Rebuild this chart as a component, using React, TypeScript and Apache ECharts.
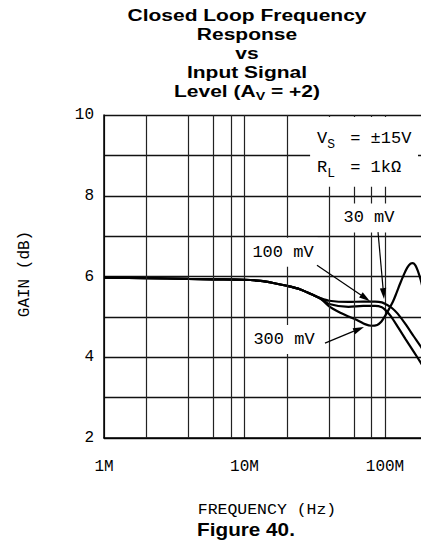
import React, { useEffect, useRef } from 'react';
import * as echarts from 'echarts';

// ---- Data (frequency in MHz, gain in dB) ----
const xTickLabels = ['1M', '10M', '100M'];
const minorGridFreqs = [2, 4, 6, 8, 20, 40, 60, 80, 200, 400, 600, 800];

const seriesNames = ['30 mV', '100 mV', '300 mV'];

const freq30 = [1, 2, 4, 6, 10, 13, 16, 20, 25, 30, 35, 40, 55, 70, 85, 95, 103, 112, 123, 140, 160, 180, 200];
const gain30 = [5.97, 5.96, 5.94, 5.93, 5.92, 5.89, 5.84, 5.77, 5.68, 5.56, 5.46, 5.4, 5.37, 5.38, 5.38, 5.36, 5.3, 5.22, 5.08, 4.82, 4.52, 4.26, 4.0];

const freq100 = [1, 2, 4, 6, 10, 13, 16, 20, 25, 30, 35, 40, 55, 70, 85, 95, 100, 110, 125, 140, 160, 180, 200];
const gain100 = [5.97, 5.96, 5.94, 5.93, 5.92, 5.89, 5.84, 5.77, 5.68, 5.56, 5.45, 5.32, 5.25, 5.27, 5.27, 5.24, 5.18, 5.02, 4.72, 4.45, 4.14, 3.86, 3.6];

const freq300 = [1, 2, 4, 6, 10, 13, 16, 20, 25, 30, 35, 40, 47, 55, 65, 72, 80, 88, 94, 100, 107, 114, 121, 128, 136, 144, 152, 158, 165, 172, 180, 190];
const gain300 = [5.97, 5.96, 5.94, 5.93, 5.92, 5.89, 5.84, 5.77, 5.68, 5.56, 5.44, 5.26, 5.12, 5.01, 4.9, 4.82, 4.78, 4.8, 4.88, 5.02, 5.2, 5.38, 5.6, 5.82, 6.04, 6.22, 6.32, 6.33, 6.27, 6.12, 5.9, 5.55];

const titleText = 'Closed Loop Frequency\nResponse\nvs\nInput Signal\nLevel (A{sub|V} = +2)';

// annotation anchors in data coordinates [MHz, dB]
const annotationLabels = [
  { text: '30 mV', at: [76.9, 7.45] },
  { text: '100 mV', at: [18.8, 6.6] },
  { text: '300 mV', at: [19.1, 4.44] },
];
const annotationArrows = [
  { from: [89.2, 7.1], to: [98.4, 5.44] },
  { from: [32.8, 6.28], to: [78.2, 5.39] },
  { from: [37.4, 4.35], to: [70.9, 4.75] },
];
const conditionBox = { from: [29.3, 9.95], to: [171.8, 8.22] };
const conditionLines = [
  { text: 'V{s|S} = \u00b115V', at: [32.8, 9.43] },
  { text: 'R{s|L} = 1k\u03a9', at: [32.8, 8.7] },
];

const MONO = 'Liberation Mono';
const SANS = 'Liberation Sans';

const toPairs = (f: number[], g: number[]) => f.map((v, i) => [v, g[i]]);

export default function App() {
  const ref = useRef<HTMLDivElement>(null);

  useEffect(() => {
    const el = ref.current!;
    const chart = echarts.init(el, null, { renderer: 'svg' });
    const curveData = [toPairs(freq30, gain30), toPairs(freq100, gain100), toPairs(freq300, gain300)];

    const option: any = {
      animation: false,
      backgroundColor: '#fff',
      grid: { left: 104, top: 115, width: 421.5, height: 323, containLabel: false },
      xAxis: {
        type: 'log',
        logBase: 10,
        min: 1,
        max: 1000,
        axisLine: { show: true, lineStyle: { color: '#000', width: 1.5 } },
        axisTick: { show: false },
        splitLine: { show: true, lineStyle: { color: '#222', width: 1.2 } },
        axisLabel: {
          margin: 21,
          fontFamily: MONO,
          fontSize: 16,
          color: '#000',
          formatter: (v: number) => xTickLabels[Math.round(Math.log10(v))] ?? '',
        },
      },
      yAxis: {
        type: 'value',
        min: 2,
        max: 10,
        interval: 1,
        axisLine: { show: true, lineStyle: { color: '#000', width: 1.5 } },
        axisTick: { show: false },
        splitLine: { show: true, lineStyle: { color: '#111', width: 1.4 } },
        axisLabel: {
          margin: 10,
          fontFamily: MONO,
          fontSize: 16,
          color: '#000',
          formatter: (v: number) => (Math.round(v) % 2 === 0 ? String(v) : ''),
        },
      },
      series: [
        {
          type: 'line',
          name: 'grid',
          data: [],
          silent: true,
          z: 1,
          markLine: {
            silent: true,
            symbol: ['none', 'none'],
            label: { show: false },
            lineStyle: { color: '#222', width: 1.2, type: 'solid' },
            data: minorGridFreqs.map((f) => ({ xAxis: f })),
          },
        },
        ...curveData.map((d, i) => ({
          type: 'line',
          name: seriesNames[i],
          data: d,
          smooth: 0.3,
          showSymbol: false,
          symbol: 'none',
          lineStyle: { color: '#000', width: 2.2 },
          z: 3,
        })),
      ],
    };
    chart.setOption(option);

    const toPx = (p: number[]) => chart.convertToPixel({ gridIndex: 0 } as any, p) as unknown as number[];
    const g: any[] = [];

    // title (one multi-line text, widened to match the reference's wide bold face)
    g.push({
      type: 'text',
      x: 247,
      y: 5.3,
      scaleX: 1.235,
      z: 100,
      style: {
        text: titleText,
        fontFamily: SANS,
        fontWeight: 'bold',
        fontSize: 17,
        lineHeight: 19,
        fill: '#000',
        align: 'center',
        verticalAlign: 'top',
        rich: {
          sub: { fontFamily: SANS, fontWeight: 'bold', fontSize: 11.5, lineHeight: 5, padding: [11, 0, 0, 0] },
        },
      },
    });

    // axis titles and caption
    g.push({
      type: 'text', x: 25, y: 274, rotation: Math.PI / 2, z: 100,
      style: { text: 'GAIN (dB)', fontFamily: MONO, fontSize: 16, fill: '#000', align: 'center', verticalAlign: 'middle' },
    });
    g.push({
      type: 'text', x: 267, y: 510, scaleX: 1.1, z: 100,
      style: { text: 'FREQUENCY (Hz)', fontFamily: MONO, fontSize: 15, fill: '#000', align: 'center', verticalAlign: 'middle' },
    });
    g.push({
      type: 'text', x: 246, y: 529.2, scaleX: 1.09, z: 100,
      style: { text: 'Figure 40.', fontFamily: SANS, fontWeight: 'bold', fontSize: 19, fill: '#000', align: 'center', verticalAlign: 'middle' },
    });

    // conditions box
    const b1 = toPx(conditionBox.from);
    const b2 = toPx(conditionBox.to);
    g.push({
      type: 'rect', z: 100,
      shape: { x: b1[0], y: b1[1], width: b2[0] - b1[0], height: b2[1] - b1[1] },
      style: { fill: '#fff' },
    });
    conditionLines.forEach((c) => {
      const [x, y] = toPx(c.at);
      g.push({
        type: 'text', x, y, z: 105,
        style: {
          text: c.text, fontFamily: MONO, fontSize: 17, fill: '#000', align: 'left', verticalAlign: 'middle',
          rich: { s: { fontFamily: MONO, fontSize: 13, lineHeight: 8, padding: [12, 5, 0, 0] } },
        },
      });
    });

    // curve labels
    annotationLabels.forEach((a) => {
      const [x, y] = toPx(a.at);
      g.push({
        type: 'text', x, y, z: 105,
        style: {
          text: a.text, fontFamily: MONO, fontSize: 17, fill: '#000', align: 'center', verticalAlign: 'middle',
          backgroundColor: '#fff', padding: [6, 4],
        },
      });
    });

    // arrows
    annotationArrows.forEach((a) => {
      const [x1, y1] = toPx(a.from);
      const [x2, y2] = toPx(a.to);
      const dx = x2 - x1;
      const dy = y2 - y1;
      const len = Math.hypot(dx, dy);
      const ux = dx / len;
      const uy = dy / len;
      const L = 11;
      const W = 3.2;
      const bx = x2 - ux * L;
      const by = y2 - uy * L;
      g.push({ type: 'line', z: 110, shape: { x1, y1, x2: bx, y2: by }, style: { stroke: '#000', lineWidth: 1.2 } });
      g.push({
        type: 'polygon', z: 110,
        shape: { points: [[x2, y2], [bx - uy * W, by + ux * W], [bx + uy * W, by - ux * W]] },
        style: { fill: '#000' },
      });
    });

    chart.setOption({ graphic: g });
    return () => chart.dispose();
  }, []);

  return (
    <div style={{ position: 'fixed', left: 0, top: 0, width: 421, height: 540, overflow: 'hidden', background: '#fff' }}>
      <div ref={ref} style={{ width: 560, height: 540 }} />
    </div>
  );
}
